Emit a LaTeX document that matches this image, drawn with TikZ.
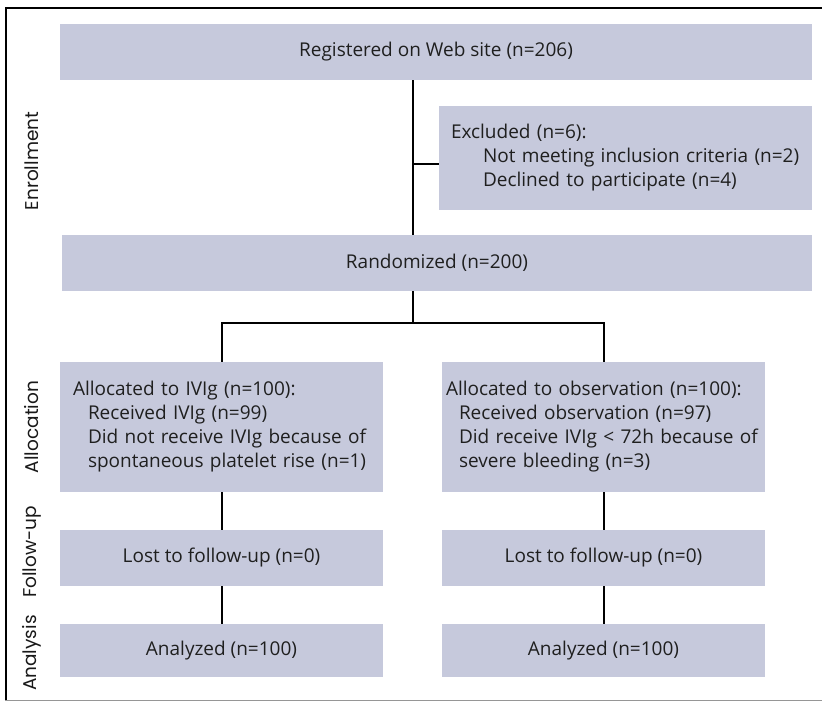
\documentclass[tikz,border=0pt]{standalone}
\usepackage{fontspec}
\setmainfont{Open Sans}
\newfontfamily\sidefont{Poppins}
\definecolor{boxfill}{RGB}{198,201,220}
\definecolor{framegrey}{RGB}{150,150,150}
\begin{document}
\begin{tikzpicture}[x=1pt,y=-1pt,
  box/.style={fill=boxfill, draw=none, inner sep=0pt, minimum width=#1},
  txt/.style={font=\fontsize{19}{24}\selectfont, text=black!88},
  side/.style={font=\sidefont\fontsize{18.5}{20}\selectfont, rotate=90, text=black!90},
  conn/.style={line width=2pt, black}]
\useasboundingbox (0,0) rectangle (822,701);
% frame
\draw[line width=2pt] (822,8) -- (6,8) -- (6,700);
\draw[line width=1pt, framegrey] (5,700) -- (822,700);
% boxes
\node[box=752pt, minimum height=56pt, txt] (reg) at (436,52) {Registered on Web site (n=206)};
\node[box=373pt, minimum height=104pt, txt, align=left, text width=349pt] (excl) at (625.5,158)
  {\mbox{Excluded (n=6):}\\\mbox{\hspace*{32pt}Not meeting inclusion criteria (n=2)}\\\mbox{\hspace*{32pt}Declined to participate (n=4)}};
\node[box=750pt, minimum height=56pt, txt] (rand) at (437,263) {Randomized (n=200)};
\node[box=323pt, minimum height=130pt, txt, align=left, text width=297pt] (allocL) at (221.5,427)
  {\mbox{Allocated to IVIg (n=100):}\\\mbox{\hspace*{15pt}Received IVIg (n=99)}\\\mbox{\hspace*{15pt}Did not receive IVIg because of}\\\mbox{\hspace*{15pt}spontaneous platelet rise (n=1)}};
\node[box=323pt, minimum height=130pt, txt, align=left, text width=315pt] (allocR) at (603.5,427)
  {\mbox{Allocated to observation (n=100):}\\\mbox{\hspace*{13pt}Received observation (n=97)}\\\mbox{\hspace*{13pt}Did receive IVIg < 72h because of}\\\mbox{\hspace*{13pt}severe bleeding (n=3)}};
\node[box=323pt, minimum height=56pt, txt] (lostL) at (221.5,558) {Lost to follow-up (n=0)};
\node[box=323pt, minimum height=56pt, txt] (lostR) at (603.5,558) {Lost to follow-up (n=0)};
\node[box=323pt, minimum height=53pt, txt] (anaL) at (221.5,650.5) {Analyzed (n=100)};
\node[box=323pt, minimum height=53pt, txt] (anaR) at (603.5,650.5) {Analyzed (n=100)};
% side labels
\node[side] (sEnr) at (32,161) {Enrollment};
\node[side] (sAll) at (32,427) {Allocation};
\node[side] (sFol) at (32,552) {Follow-up};
\node[side] (sAna) at (32,653) {Analysis};
% connectors
\coordinate (trunk) at (413,0);
\coordinate (exj) at (413,164);
\coordinate (split) at (413,323);
\draw[conn] (reg.south -| trunk) -- (rand.north -| trunk);
\draw[conn] (exj) -- (excl.west |- exj);
\draw[conn] (rand.south -| split) -- (split);
\draw[conn] (allocL.north) |- (split) -| (allocR.north);
\draw[conn] (allocL.south) -- (lostL.north);
\draw[conn] (allocR.south) -- (lostR.north);
\draw[conn] (lostL.south) -- (anaL.north);
\draw[conn] (lostR.south) -- (anaR.north);
\end{tikzpicture}
\end{document}
